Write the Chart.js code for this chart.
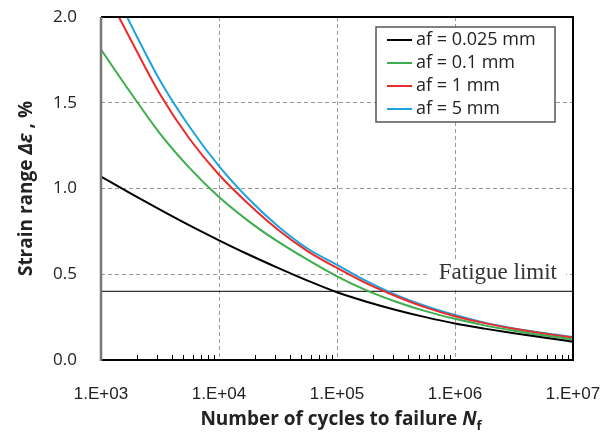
<!DOCTYPE html>
<html>
<head>
<meta charset="utf-8">
<script src="https://cdn.jsdelivr.net/npm/chart.js@4.4.0/dist/chart.umd.min.js"></script>
<style>
  html, body { margin: 0; padding: 0; background: #fff; }
  canvas { display: block; }
</style>
</head>
<body>
<canvas id="chart" width="614" height="443"></canvas>
<script>
// Nombre de ciclos (eje x logarítmico)
const cycles = [1e3, 1778, 3162, 5623, 1e4, 17783, 31623, 56234, 1e5, 177828, 316228, 562341, 1e6, 1778279, 3162278, 5623413, 1e7];

// Rango de deformación (%) para cada tamaño de grieta final
const af0025 = [1.07, 0.972, 0.877, 0.785, 0.698, 0.615, 0.537, 0.463, 0.395, 0.34, 0.292, 0.25, 0.213, 0.183, 0.156, 0.131, 0.107];
const af01 = [1.81, 1.56, 1.32, 1.12, 0.95, 0.81, 0.69, 0.585, 0.488, 0.406, 0.34, 0.285, 0.24, 0.202, 0.171, 0.144, 0.12];
const af1 = [2.2, 1.87, 1.55, 1.29, 1.08, 0.91, 0.76, 0.635, 0.537, 0.447, 0.372, 0.307, 0.255, 0.215, 0.182, 0.154, 0.13];
const af5 = [2.31, 1.96, 1.63, 1.36, 1.13, 0.94, 0.78, 0.65, 0.555, 0.46, 0.38, 0.315, 0.262, 0.218, 0.184, 0.157, 0.134];

const seriesLabels = ["af = 0.025 mm", "af = 0.1 mm", "af = 1 mm", "af = 5 mm"];
const seriesColors = ["#000000", "#3cae4c", "#ec2a2c", "#1da3e0"];

const fatigueLimit = 0.4;
const fatigueText = "Fatigue limit";

const xTickValues = [1e3, 1e4, 1e5, 1e6, 1e7];
const xTickLabels = ["1.E+03", "1.E+04", "1.E+05", "1.E+06", "1.E+07"];
const minorMultipliers = [2, 3, 4, 5, 6, 7, 8, 9];

const toPoints = (arr) => cycles.map((n, i) => ({ x: n, y: arr[i] }));

// Marco del área del gráfico
const framePlugin = {
  id: "frame",
  afterDatasetsDraw(chart) {
    const { ctx, chartArea: a, scales } = chart;
    ctx.save();
    // marcas menores en el eje x
    ctx.strokeStyle = "#000";
    ctx.lineWidth = 1;
    for (let d = 1e3; d < 1e7; d *= 10) {
      minorMultipliers.forEach((m) => {
        const x = Math.round(scales.x.getPixelForValue(d * m)) + 0.5;
        ctx.beginPath();
        ctx.moveTo(x, a.bottom);
        ctx.lineTo(x, a.bottom - 5);
        ctx.stroke();
      });
    }
    // bordes
    ctx.lineWidth = 2;
    ctx.strokeStyle = "#000";
    ctx.beginPath();
    ctx.moveTo(a.left, a.top);
    ctx.lineTo(a.right, a.top);
    ctx.lineTo(a.right, a.bottom);
    ctx.lineTo(a.left, a.bottom);
    ctx.stroke();
    ctx.strokeStyle = "#777";
    ctx.lineWidth = 2.5;
    ctx.beginPath();
    ctx.moveTo(a.left, a.top);
    ctx.lineTo(a.left, a.bottom + 1);
    ctx.stroke();

    // texto del límite de fatiga
    const ty = scales.y.getPixelForValue(0.5);
    ctx.fillStyle = "#fff";
    ctx.fillRect(a.right - 143, ty - 13, 136, 26);
    ctx.font = "23px 'Liberation Serif', serif";
    ctx.fillStyle = "#333";
    ctx.textAlign = "right";
    ctx.textBaseline = "middle";
    ctx.fillText(fatigueText, a.right - 16, ty - 1);
    ctx.restore();
  }
};

// Leyenda dentro del área
const legendPlugin = {
  id: "insideLegend",
  afterDraw(chart) {
    const { ctx, chartArea: a } = chart;
    const left = a.right - 197;
    const top = a.top + 10;
    ctx.save();
    ctx.fillStyle = "#fff";
    ctx.fillRect(left, top, 179, 95);
    ctx.strokeStyle = "#555";
    ctx.lineWidth = 1.5;
    ctx.strokeRect(left, top, 179, 95);
    ctx.font = "18px 'Open Sans', sans-serif";
    ctx.textBaseline = "middle";
    ctx.textAlign = "left";
    seriesLabels.forEach((label, i) => {
      const y = top + 13 + i * 23;
      ctx.strokeStyle = seriesColors[i];
      ctx.lineWidth = 2;
      ctx.beginPath();
      ctx.moveTo(left + 11, y);
      ctx.lineTo(left + 36, y);
      ctx.stroke();
      ctx.fillStyle = "#222";
      ctx.fillText(label, left + 40, y);
    });
    ctx.restore();
  }
};

// Títulos de los ejes con cursiva y subíndice
const titlesPlugin = {
  id: "axisTitles",
  afterDraw(chart) {
    const { ctx, chartArea: a } = chart;
    const bold = "bold 19px 'Open Sans', sans-serif";
    const boldItalic = "italic bold 19px 'Open Sans', sans-serif";
    const sub = "bold 13px 'Open Sans', sans-serif";
    ctx.save();
    ctx.fillStyle = "#222";
    ctx.textBaseline = "alphabetic";
    ctx.textAlign = "left";

    // eje x
    const xParts = [
      { t: "Number of cycles to failure ", f: bold, dy: 0 },
      { t: "N", f: boldItalic, dy: 0 },
      { t: "f", f: sub, dy: 5 }
    ];
    let total = 0;
    xParts.forEach((p) => { ctx.font = p.f; total += ctx.measureText(p.t).width; });
    let x = (a.left + a.right) / 2 + 4 - total / 2;
    xParts.forEach((p) => {
      ctx.font = p.f;
      ctx.fillText(p.t, x, 425 + p.dy);
      x += ctx.measureText(p.t).width;
    });

    // eje y
    const yParts = [
      { t: "Strain range ", f: bold },
      { t: "Δε", f: boldItalic },
      { t: " , %", f: bold }
    ];
    total = 0;
    yParts.forEach((p) => { ctx.font = p.f; total += ctx.measureText(p.t).width; });
    ctx.translate(32, (a.top + a.bottom) / 2);
    ctx.rotate(-Math.PI / 2);
    x = -total / 2;
    yParts.forEach((p) => {
      ctx.font = p.f;
      ctx.fillText(p.t, x, 0);
      x += ctx.measureText(p.t).width;
    });
    ctx.restore();
  }
};

const datasets = seriesLabels.map((label, i) => ({
  label: label,
  data: toPoints([af0025, af01, af1, af5][i]),
  borderColor: seriesColors[i],
  borderWidth: 2,
  pointRadius: 0,
  cubicInterpolationMode: "monotone",
  fill: false
}));

datasets.push({
  label: fatigueText,
  data: [{ x: 1e3, y: fatigueLimit }, { x: 1e7, y: fatigueLimit }],
  borderColor: "#333",
  borderWidth: 1.3,
  pointRadius: 0,
  fill: false
});

const chart = new Chart(document.getElementById("chart").getContext("2d"), {
  type: "line",
  data: { datasets: datasets },
  options: {
    responsive: false,
    animation: false,
    layout: { padding: { top: 17, right: 41, left: 0, bottom: 0 } },
    plugins: {
      legend: { display: false },
      tooltip: { enabled: false }
    },
    scales: {
      x: {
        type: "logarithmic",
        min: 1e3,
        max: 1e7,
        afterBuildTicks: (scale) => {
          scale.ticks = xTickValues.map((v) => ({ value: v }));
        },
        afterFit: (scale) => {
          scale.height = 83;
          scale.paddingLeft = 0;
          scale.paddingRight = 0;
        },
        ticks: {
          callback: (value) => xTickLabels[xTickValues.indexOf(value)],
          autoSkip: false,
          maxRotation: 0,
          padding: 24,
          color: "#222",
          font: { family: "'Liberation Sans', Arial, sans-serif", size: 17 }
        },
        grid: {
          drawTicks: false,
          lineWidth: 1,
          color: (ctx) => (ctx.tick && (ctx.tick.value === 1e3 || ctx.tick.value === 1e7)) ? "rgba(0,0,0,0)" : "#999"
        },
        border: { display: false, dash: [4, 3] }
      },
      y: {
        min: 0,
        max: 2,
        afterFit: (scale) => {
          scale.width = 101;
          scale.paddingTop = 0;
          scale.paddingBottom = 0;
        },
        ticks: {
          stepSize: 0.5,
          callback: (value) => value.toFixed(1),
          padding: 24,
          color: "#222",
          font: { family: "'Open Sans', sans-serif", size: 17 }
        },
        grid: {
          drawTicks: false,
          lineWidth: 1,
          color: (ctx) => (ctx.tick && (ctx.tick.value === 0 || ctx.tick.value === 2)) ? "rgba(0,0,0,0)" : "#999"
        },
        border: { display: false, dash: [4, 3] }
      }
    }
  },
  plugins: [framePlugin, legendPlugin, titlesPlugin]
});
</script>
</body>
</html>
